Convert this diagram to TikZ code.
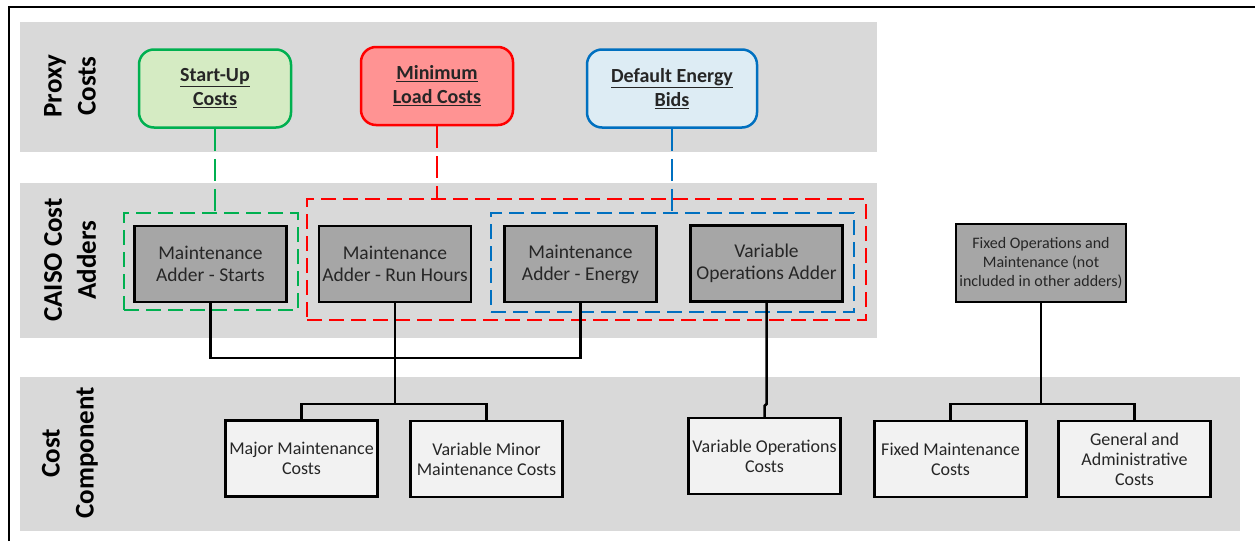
\documentclass[tikz,border=0pt]{standalone}
\usepackage{fontspec}
\setmainfont{Carlito}
\usetikzlibrary{positioning}
\definecolor{bandgray}{HTML}{D9D9D9}
\definecolor{darkbox}{HTML}{A6A6A6}
\definecolor{lightbox}{HTML}{F2F2F2}
\definecolor{txtgray}{HTML}{262626}
\definecolor{pgreen}{HTML}{00B050}
\definecolor{pgreenfill}{HTML}{D5EBC3}
\definecolor{pred}{HTML}{FF0000}
\definecolor{predfill}{HTML}{FF9393}
\definecolor{pblue}{HTML}{0070C0}
\definecolor{pbluefill}{HTML}{DDECF4}
\tikzset{
  band/.style={fill=bandgray, draw=none},
  bandlabel/.style={rotate=90, align=center, font=\fontsize{27}{34}\selectfont\bfseries, text=black},
  proxybox/.style={rounded corners=15pt, line width=2.5pt, align=center, minimum width=#1, minimum height=78pt, font=\fontsize{20}{24}\selectfont\bfseries, text=txtgray},
  adderbox/.style={fill=darkbox, draw=black, line width=2.5pt, minimum width=152pt, minimum height=76pt, align=center, text=txtgray, font=\fontsize{19.5}{22}\selectfont},
  compbox/.style={fill=lightbox, draw=black, line width=2.5pt, minimum width=152pt, minimum height=76pt, align=center, text=txtgray, font=\fontsize{18}{20}\selectfont},
  groupbox/.style={dashed, dash pattern=on 15pt off 7pt, line width=2.8pt, draw=#1},
  link/.style={draw=black, line width=2.5pt},
  proxylink/.style={line width=2.8pt, draw=#1, dash pattern=on 22pt off 8pt},
}
\begin{document}
\begin{tikzpicture}[x=1pt, y=-1pt]
\useasboundingbox (0,0) rectangle (1255,541);
% outer frame
\draw[line width=2pt] (9,541) -- (9,7) -- (1255,7);
% bands
\fill[band] (20,22) rectangle (877,152);
\fill[band] (20,183) rectangle (877,338);
\fill[band] (20,377) rectangle (1240,531);
\node[bandlabel] (l1) at (70,86) {Proxy\\Costs};
\node[bandlabel] (l2) at (70,260) {CAISO Cost\\Adders};
\node[bandlabel] (l3) at (70,453) {Cost\\Component};
% proxy cost boxes
\node[proxybox=152pt, draw=pgreen, fill=pgreenfill] (su) at (215,88.5) {\underline{Start-Up}\\\underline{Costs}};
\node[proxybox=152pt, draw=pred, fill=predfill] (mlc) at (437,86) {\underline{Minimum}\\\underline{Load Costs}};
\node[proxybox=170pt, draw=pblue, fill=pbluefill] (deb) at (672,88.5) {\underline{Default Energy}\\\underline{Bids}};
% dashed group boxes
\node[groupbox=pgreen, minimum width=174pt, minimum height=97pt] (gbox) at (211,261.5) {};
\node[groupbox=pred, minimum width=559pt, minimum height=121pt] (rbox) at (586.5,259.5) {};
\node[groupbox=pblue, minimum width=363pt, minimum height=99pt] (bbox) at (672.5,262.5) {};
% proxy links
\draw[proxylink=pgreen] (su.south) -- (su.south |- gbox.north);
\draw[proxylink=pred] (mlc.south) -- (mlc.south |- rbox.north);
\draw[proxylink=pblue] (deb.south) -- (deb.south |- bbox.north);
% adder boxes
\node[adderbox] (a1) at (210.5,264) {Maintenance\\Adder - Starts};
\node[adderbox] (a2) at (395,264) {Maintenance\\Adder - Run Hours};
\node[adderbox] (a3) at (580.5,264) {Maintenance\\Adder - Energy};
\node[adderbox] (a4) at (766.5,263.5) {Variable\\Operations Adder};
\node[adderbox, minimum width=170pt, minimum height=78pt, font=\fontsize{16}{18.7}\selectfont] (a5) at (1041,263) {Fixed Operations and\\Maintenance (not\\included in other adders)};
% component boxes
\node[compbox] (c1) at (301.5,458.5) {Major Maintenance\\Costs};
\node[compbox] (c2) at (486.5,459) {Variable Minor\\Maintenance Costs};
\node[compbox] (c3) at (764.5,456) {Variable Operations\\Costs};
\node[compbox] (c4) at (950.5,459) {Fixed Maintenance\\Costs};
\node[compbox] (c5) at (1134.5,459) {General and\\Administrative\\Costs};
% links
\coordinate (j1) at (a2.south |- 0,358);
\coordinate (j2) at (a2.south |- 0,404);
\draw[link] (a1.south) |- (j1) -| (a3.south);
\draw[link] (a2.south) -- (j2);
\draw[link] (c1.north) |- (j2) -| (c2.north);
\coordinate (j4) at (a4.south |- 0,404);
\coordinate (j5) at (c3.north |- 0,406);
\draw[link] (a4.south) -- (j4) -- (j5) -- (c3.north);
\coordinate (j3) at (a5.south |- 0,404);
\draw[link] (a5.south) -- (j3);
\draw[link] (c4.north) |- (j3) -| (c5.north);
\end{tikzpicture}
\end{document}
